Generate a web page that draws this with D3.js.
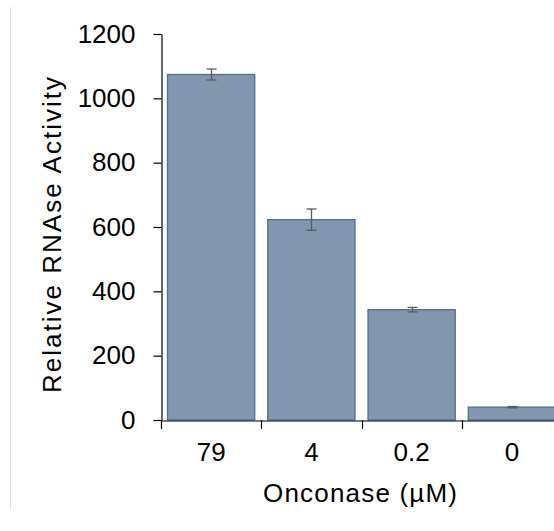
<!DOCTYPE html>
<html>
<head>
<meta charset="utf-8">
<script src="https://cdn.jsdelivr.net/npm/d3@7"></script>
<style>
  body { margin: 0; background: #fff; }
  svg { display: block; }
</style>
</head>
<body>
<div id="chart"></div>
<script>
const CATEGORIES = ["79", "4", "0.2", "0"];
const VALUES = [1074, 623, 343, 40];
const ERRORS = [17, 33, 7, 2];
const Y_TICKS = [0, 200, 400, 600, 800, 1000, 1200];

const W = 554, H = 531;
const FONT = "Liberation Sans, Arial, sans-serif";
const FS = 26;

const svg = d3.select("#chart").append("svg")
  .attr("width", W).attr("height", H);

// faint frame line on the left
svg.append("line")
  .attr("x1", 10.5).attr("x2", 10.5).attr("y1", 7).attr("y2", 510)
  .attr("stroke", "#e4e4e4");

const x = d3.scaleBand().domain(CATEGORIES).range([161, 562]).paddingInner(0.13).paddingOuter(0.065);
const y = d3.scaleLinear().domain([0, 1200]).range([420, 34]);

// bars
svg.selectAll("rect.bar").data(VALUES).enter().append("rect")
  .attr("class", "bar")
  .attr("x", (d, i) => x(CATEGORIES[i]))
  .attr("width", x.bandwidth())
  .attr("y", d => y(d))
  .attr("height", d => y(0) - y(d))
  .attr("fill", "#8296ae")
  .attr("stroke", "#4e6f96")
  .attr("stroke-width", 1.3);

// error bars
const eb = svg.append("g").attr("stroke", "#5a5a5a").attr("stroke-width", 1.3);
VALUES.forEach((v, i) => {
  const cx = Math.round(x(CATEGORIES[i]) + x.bandwidth() / 2) + 0.5;
  const e = ERRORS[i];
  eb.append("line").attr("x1", cx).attr("x2", cx).attr("y1", y(v + e)).attr("y2", y(v - e));
  eb.append("line").attr("x1", cx - 5).attr("x2", cx + 5).attr("y1", y(v + e)).attr("y2", y(v + e));
  eb.append("line").attr("x1", cx - 5).attr("x2", cx + 5).attr("y1", y(v - e)).attr("y2", y(v - e));
});

// y axis
const yAxis = svg.append("g").attr("transform", "translate(161.5,0)")
  .call(d3.axisLeft(y).tickValues(Y_TICKS).tickFormat(d3.format("d")).tickSize(8).tickPadding(18).tickSizeOuter(0));
yAxis.attr("font-size", null).attr("font-family", null);
yAxis.select(".domain").attr("stroke", "#000").attr("stroke-width", 1.2);
yAxis.selectAll(".tick line").attr("stroke", "#000").attr("stroke-width", 1.2);
yAxis.selectAll("text").attr("font-family", FONT).attr("font-size", FS).attr("fill", "#000");

// x axis
const xAxis = svg.append("g").attr("transform", "translate(0,420.5)")
  .call(d3.axisBottom(x).tickSize(0).tickPadding(22).tickSizeOuter(0));
xAxis.attr("font-size", null).attr("font-family", null);
xAxis.select(".domain").attr("stroke", "#000").attr("stroke-width", 1.2);
xAxis.selectAll("text").attr("font-family", FONT).attr("font-size", FS).attr("fill", "#000");
// boundary ticks between categories
const bounds = CATEGORIES.map(c => x(c) - x.step() * x.paddingInner() / 2);
svg.append("g").selectAll("line").data(bounds).enter().append("line")
  .attr("x1", d => Math.round(d) + 0.5).attr("x2", d => Math.round(d) + 0.5)
  .attr("y1", 420).attr("y2", 429)
  .attr("stroke", "#000").attr("stroke-width", 1.2);

// axis titles
svg.append("text")
  .attr("transform", "translate(61,235) rotate(-90)")
  .attr("text-anchor", "middle")
  .attr("font-family", FONT).attr("font-size", FS)
  .attr("textLength", 316)
  .text("Relative RNAse Activity");

svg.append("text")
  .attr("x", 263).attr("y", 502)
  .attr("font-family", FONT).attr("font-size", FS)
  .attr("textLength", 194)
  .text("Onconase (µM)");
</script>
</body>
</html>
